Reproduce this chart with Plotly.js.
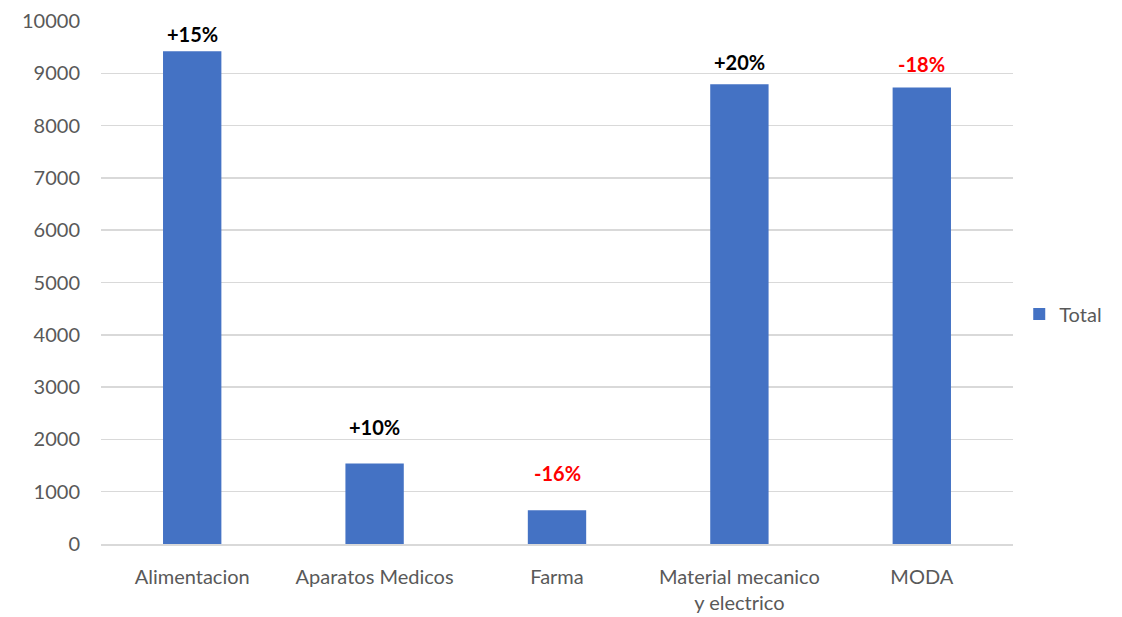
<!DOCTYPE html>
<html>
<head>
<meta charset="utf-8">
<script src="https://cdn.plot.ly/plotly-3.0.1.min.js"></script>
<style>html,body{margin:0;padding:0;background:#fff;}#chart{width:1122px;height:617px;}</style>
</head>
<body>
<div id="chart"></div>
<script>
var categories = ["Alimentacion", "Aparatos Medicos", "Farma", "Material mecanico<br>y electrico", "MODA"];
var totals = [9420, 1540, 645, 8790, 8730];
var changeLabels = ["+15%", "+10%", "-16%", "+20%", "-18%"];
var yTickVals = [0, 1000, 2000, 3000, 4000, 5000, 6000, 7000, 8000, 9000, 10000];
var yTickText = ["0", "1000", "2000", "3000", "4000", "5000", "6000", "7000", "8000", "9000", "10000"];

var labelShift = [3, 22, 23, 8, 9];
var FONT = "Lato, 'Open Sans', sans-serif";

var annotations = categories.map(function (c, i) {
  var neg = changeLabels[i].charAt(0) === "-";
  return {
    x: c, y: totals[i], xref: "x", yref: "y",
    text: "<b>" + changeLabels[i] + "</b>",
    showarrow: false, yanchor: "bottom", yshift: labelShift[i],
    font: {family: FONT, size: 20, color: neg ? "#FF0000" : "#000000"}
  };
});

var trace = {
  type: "bar", x: categories, y: totals, name: "Total",
  marker: {color: "#4472C4"}, hoverinfo: "x+y"
};

var layout = {
  width: 1122, height: 617,
  margin: {l: 101, r: 109, t: 21, b: 73},
  paper_bgcolor: "#ffffff", plot_bgcolor: "#ffffff",
  font: {family: FONT, size: 20, color: "#595959"},
  bargap: 0.68,
  showlegend: true,
  legend: {x: 1.02, xanchor: "left", y: 0.44, yanchor: "middle",
           font: {family: FONT, size: 20, color: "#595959"},
           itemwidth: 30, indentation: -12},
  xaxis: {type: "category", showgrid: false, showline: true, linecolor: "#D9D9D9", linewidth: 1.5,
          ticks: "", ticklabelstandoff: 14,
          tickfont: {family: FONT, size: 20, color: "#595959"}, automargin: false},
  yaxis: {range: [0, 10000], tickvals: yTickVals, ticktext: yTickText,
          showgrid: true, gridcolor: "#D9D9D9", gridwidth: 1.5,
          zeroline: false, showline: false, ticks: "", ticklabelstandoff: 20,
          tickfont: {family: FONT, size: 20, color: "#595959"}, automargin: false},
  annotations: annotations
};

Plotly.newPlot("chart", [trace], layout, {displayModeBar: false, staticPlot: true});
</script>
</body>
</html>
